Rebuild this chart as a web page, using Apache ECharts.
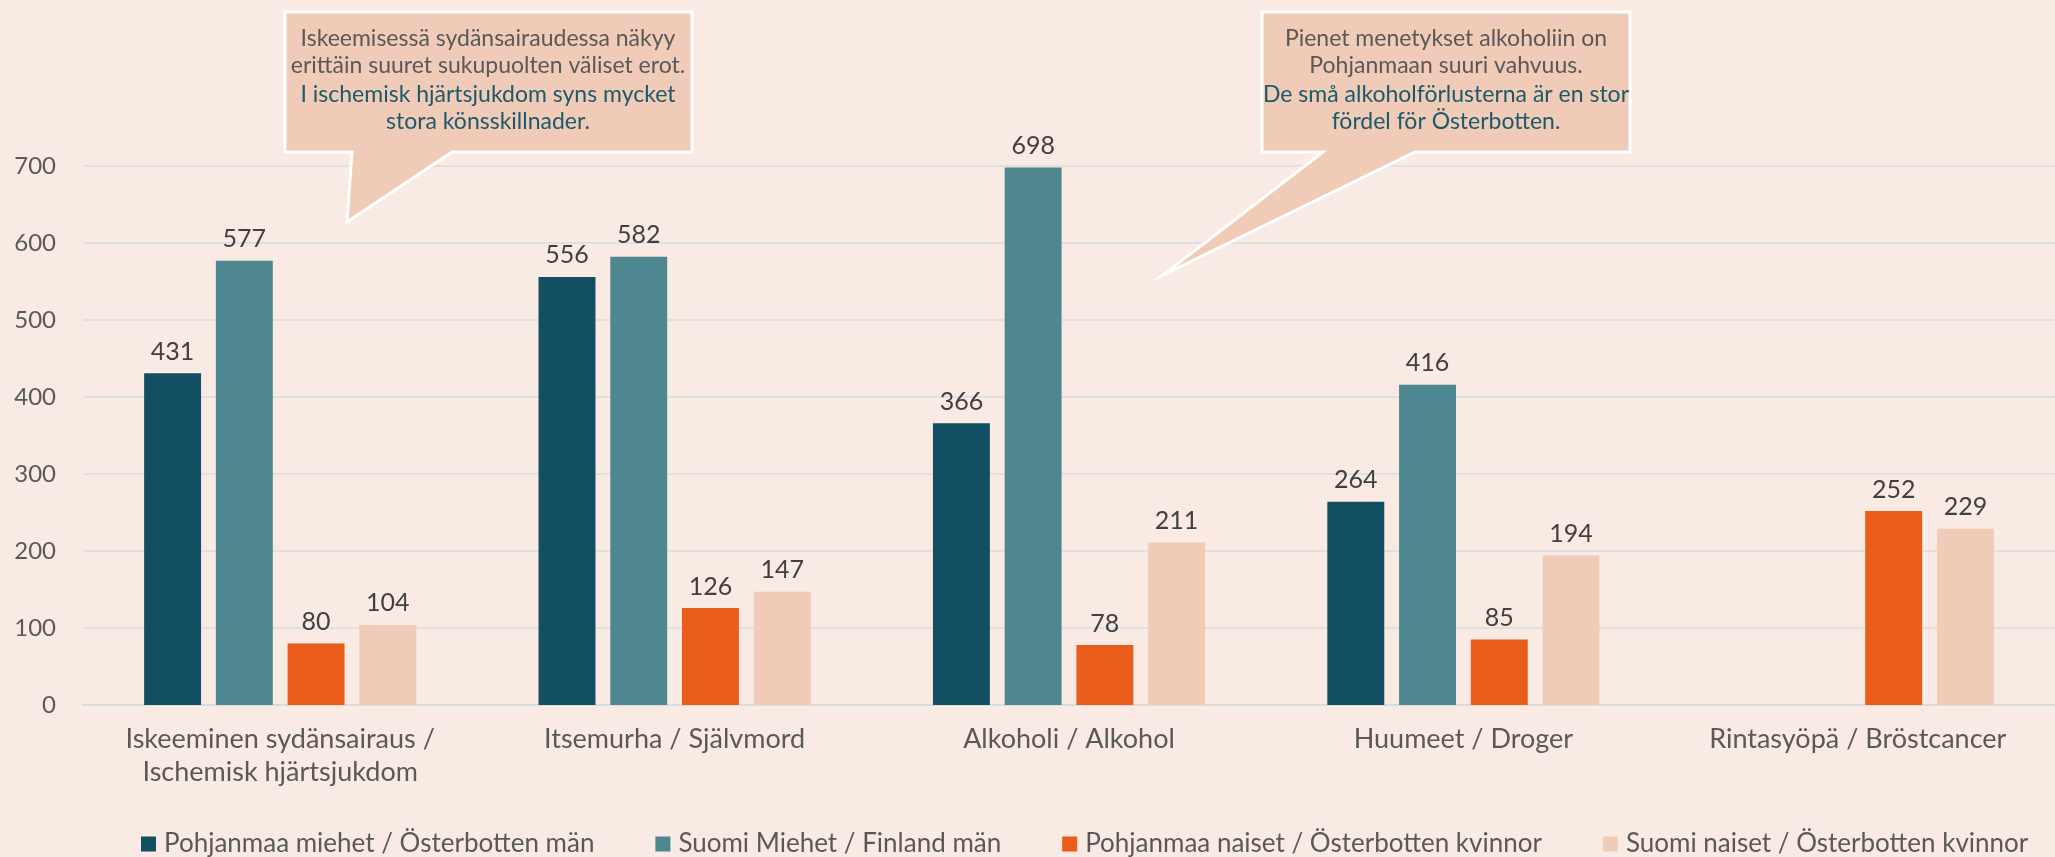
<!DOCTYPE html>
<html>
<head>
<meta charset="utf-8">
<title>Kuolemansyyt</title>
<script src="https://cdn.jsdelivr.net/npm/echarts/dist/echarts.min.js"></script>
<style>
  html, body { margin: 0; padding: 0; background: #F9EAE3; }
  #chart { width: 2055px; height: 857px; }
</style>
</head>
<body>
<div id="chart"></div>
<script>
// kategoriat / kategorier
const categories = [
  'Iskeeminen sydänsairaus /\nIschemisk hjärtsjukdom',
  'Itsemurha / Självmord',
  'Alkoholi / Alkohol',
  'Huumeet / Droger',
  'Rintasyöpä / Bröstcancer'
];
const seriesNames = [
  'Pohjanmaa miehet / Österbotten män',
  'Suomi Miehet / Finland män',
  'Pohjanmaa naiset / Österbotten kvinnor',
  'Suomi naiset / Österbotten kvinnor'
];
// arvot / värden
const pohjanmaaMiehet = [431, 556, 366, 264, null];
const suomiMiehet = [577, 582, 698, 416, null];
const pohjanmaaNaiset = [80, 126, 78, 85, 252];
const suomiNaiset = [104, 147, 211, 194, 229];
// y-akseli
const yMin = 0;
const yMax = 700;
const yStep = 100;

const colors = ['#124F62', '#4E878F', '#EA5C19', '#EFCBB8'];
const font = 'Lato';

function barSeries(name, data) {
  return {
    name: name,
    type: 'bar',
    data: data,
    barGap: '26%',
    barCategoryGap: '31%',
    label: {
      show: true,
      position: 'top',
      distance: 9,
      color: '#404040',
      fontFamily: font,
      fontSize: 25
    }
  };
}

// puhekuplat / pratbubblor
function bubble(points, cx, lines1, lines2) {
  return [
    {
      type: 'polygon',
      shape: { points: points },
      style: { fill: '#EFCBB8', stroke: '#ffffff', lineWidth: 3 },
      z: 100
    },
    {
      type: 'text',
      x: cx, y: 52,
      style: {
        text: lines1.join('\n'),
        fill: '#595959', font: '23px Lato', lineHeight: 27,
        align: 'center', verticalAlign: 'middle'
      },
      z: 101
    },
    {
      type: 'text',
      x: cx, y: 108,
      style: {
        text: lines2.join('\n'),
        fill: '#1D5A69', font: '23px Lato', lineHeight: 27,
        align: 'center', verticalAlign: 'middle'
      },
      z: 101
    }
  ];
}

const myChart = echarts.init(document.getElementById('chart'));
myChart.setOption({
  backgroundColor: '#F9EAE3',
  color: colors,
  animation: false,
  grid: { left: 83, top: 166, width: 1990, height: 539 },
  legend: {
    data: seriesNames,
    left: 136,
    top: 826,
    width: 1940,
    itemWidth: 15,
    itemHeight: 15,
    itemGap: 61,
    icon: 'rect',
    textStyle: { color: '#595959', fontFamily: font, fontSize: 26, padding: [0, 0, 0, 3] }
  },
  xAxis: {
    type: 'category',
    data: categories,
    axisTick: { show: false },
    axisLine: { lineStyle: { color: '#D9D9D9', width: 1.5 } },
    axisLabel: {
      interval: 0,
      margin: 18,
      color: '#595959',
      fontFamily: font,
      fontSize: 27,
      lineHeight: 33
    }
  },
  yAxis: {
    type: 'value',
    min: yMin,
    max: yMax,
    interval: yStep,
    axisLine: { show: false },
    axisTick: { show: false },
    axisLabel: { margin: 27, color: '#595959', fontFamily: font, fontSize: 24 },
    splitLine: { lineStyle: { color: '#D6DDDF', width: 1.5 } }
  },
  series: [
    barSeries(seriesNames[0], pohjanmaaMiehet),
    barSeries(seriesNames[1], suomiMiehet),
    barSeries(seriesNames[2], pohjanmaaNaiset),
    barSeries(seriesNames[3], suomiNaiset)
  ],
  graphic: [].concat(
    bubble(
      [[285, 12], [692, 12], [692, 152], [452, 152], [347, 222], [352, 152], [285, 152]],
      488,
      ['Iskeemisessä sydänsairaudessa näkyy', 'erittäin suuret sukupuolten väliset erot.'],
      ['I ischemisk hjärtsjukdom syns mycket', 'stora könsskillnader.']
    ),
    bubble(
      [[1262, 12], [1630, 12], [1630, 152], [1415, 152], [1163, 275], [1323, 152], [1262, 152]],
      1446,
      ['Pienet menetykset alkoholiin on', 'Pohjanmaan suuri vahvuus.'],
      ['De små alkoholförlusterna är en stor', 'fördel för Österbotten.']
    )
  )
});
</script>
</body>
</html>
